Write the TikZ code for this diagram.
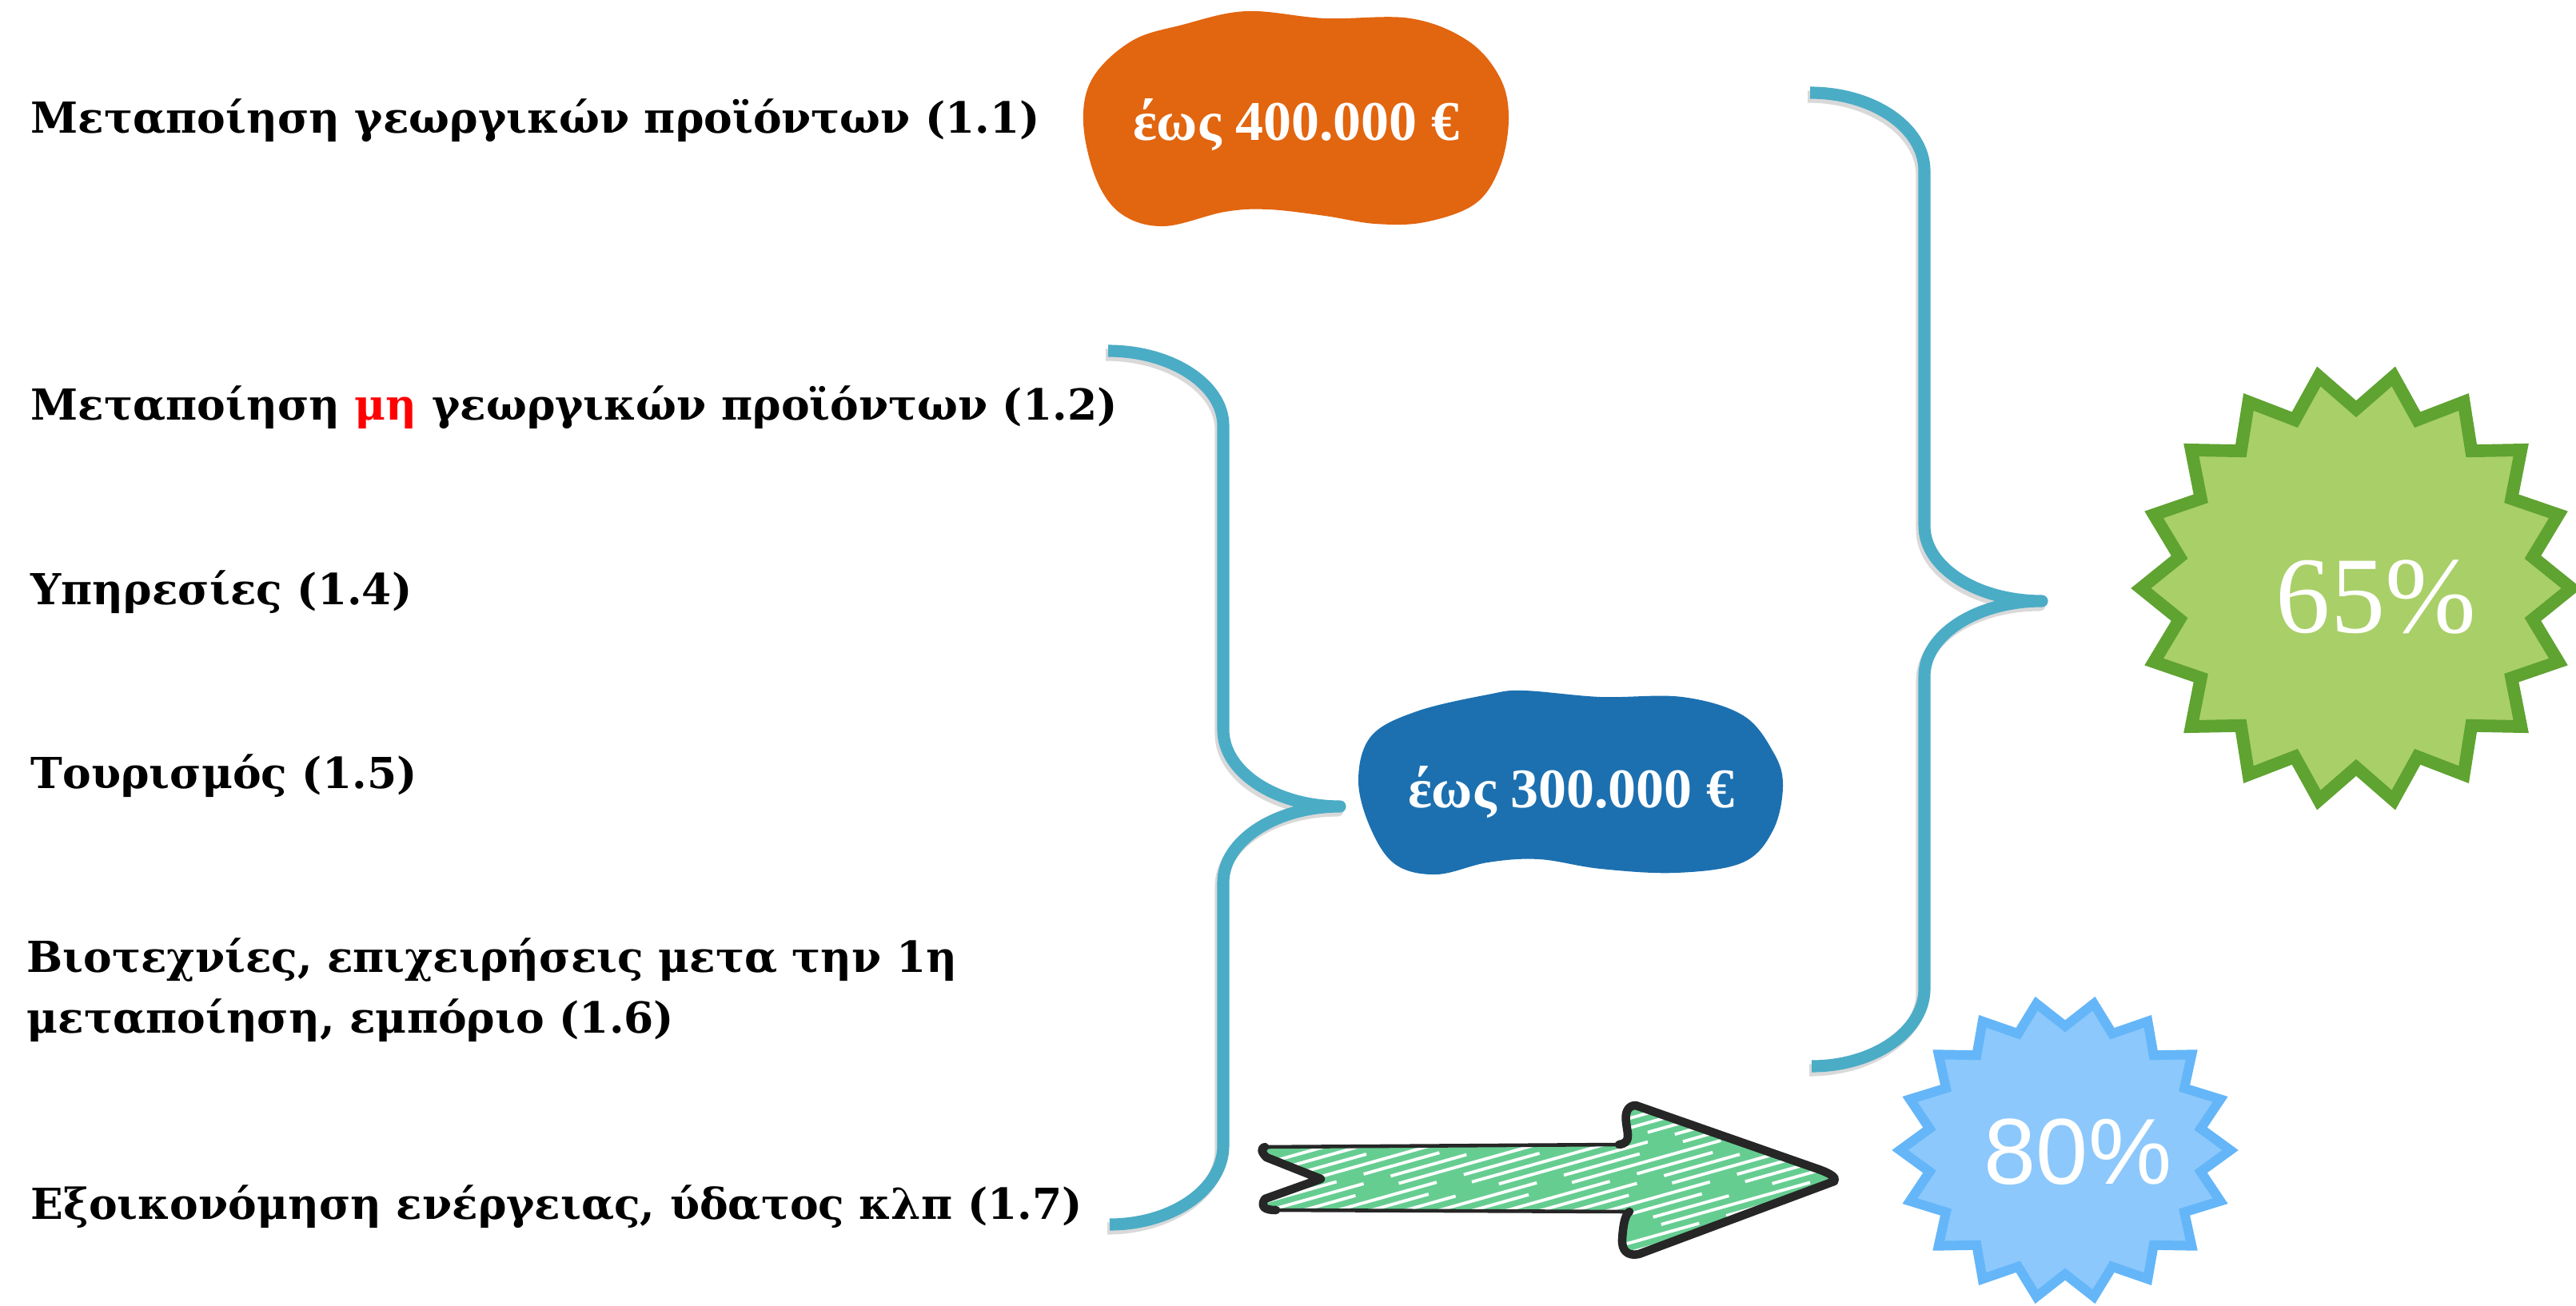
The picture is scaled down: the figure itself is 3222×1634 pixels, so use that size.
\documentclass[tikz,border=0pt]{standalone}
\usepackage{fontspec}
\setmainfont{DejaVu Serif}
\newfontfamily\blobfont{Liberation Serif}
\newfontfamily\pcsans{Liberation Sans}
\newfontfamily\pcserif{Liberation Serif}
\usepackage{xcolor}
\definecolor{bracecol}{HTML}{4BACC6}
\definecolor{orangeblob}{HTML}{E2650F}
\definecolor{blueblob}{HTML}{1C70B0}
\definecolor{gstarfill}{HTML}{A9CF68}
\definecolor{gstardraw}{HTML}{5FA331}
\definecolor{bstarfill}{HTML}{8CC8FC}
\definecolor{bstardraw}{HTML}{64B6F8}
\definecolor{arrowfill}{HTML}{66CD91}
\definecolor{arrowline}{HTML}{262626}
\usepackage{tikz}
\usetikzlibrary{shapes}

% outline of the sketched arrow (pixel units)
\newcommand{\greenarrowpath}{(1582,1435) -- (2025,1432)
  .. controls (2040,1430) and (2036,1420) .. (2034,1405)
  .. controls (2032,1392) and (2036,1383) .. (2046,1383)
  -- (2272,1462) .. controls (2290,1468) and (2298,1474) .. (2294,1478)
  -- (2050,1569) .. controls (2036,1572) and (2028,1565) .. (2029,1550)
  .. controls (2030,1535) and (2032,1520) .. (2038,1516)
  -- (1596,1514) .. controls (1582,1514) and (1576,1510) .. (1582,1500)
  -- (1652,1475) -- (1584,1448) .. controls (1576,1440) and (1578,1436) .. (1582,1435) -- cycle}

\begin{document}
\begin{tikzpicture}[x=0.01cm,y=-0.01cm]
  \tikzstyle{item}=[anchor=base west,inner sep=0pt,
                    font=\bfseries\fontsize{15.2pt}{21.6pt}\selectfont]
  \tikzstyle{blobtext}=[anchor=base,inner sep=0pt,text=white,
                        font=\blobfont\bfseries\fontsize{19.9pt}{22pt}\selectfont]
  \tikzstyle{burst}=[star,star points=18,star point ratio=1.2,
                     shape border rotate=10,inner sep=0pt]
  \tikzstyle{brace}=[draw=bracecol,line width=4.3pt,line join=round]
  \tikzstyle{braceshadow}=[draw=black,opacity=0.15,line width=4.3pt,
                           line join=round,xshift=-0.03cm,yshift=-0.05cm]

  \path[use as bounding box,fill=white] (0,0) rectangle (3222,1634);

  % texts on the left
  \node[item] (t11) at (38,167) {Μεταποίηση γεωργικών προϊόντων (1.1)};
  \node[item] (t12) at (38,526) {Μεταποίηση \textcolor{red}{μη} γεωργικών προϊόντων (1.2)};
  \node[item] (t14) at (38,756) {Υπηρεσίες (1.4)};
  \node[item] (t15) at (38,986) {Τουρισμός (1.5)};
  \node[item,align=left] (t16) at (33,1292) {Βιοτεχνίες, επιχειρήσεις μετα την 1η\\μεταποίηση, εμπόριο (1.6)};
  \node[item] (t17) at (38,1525) {Εξοικονόμηση ενέργειας, ύδατος κλπ (1.7)};

  % blobs
  \fill[orangeblob] plot[smooth cycle,tension=0.6] coordinates {(1355,153) (1367,97)
    (1416,51) (1479,31) (1559,14) (1657,23) (1764,23) (1836,51) (1876,97) (1887,148)
    (1876,209) (1845,255) (1782,278) (1720,280) (1657,270) (1586,262) (1532,265)
    (1456,283) (1403,268) (1371,224)};
  \node[blobtext] (b400) at (1621,176) {έως 400.000 €};

  \fill[blueblob] plot[smooth cycle,tension=0.6] coordinates {(1699,977) (1715,921)
    (1772,890) (1861,869) (1906,864) (2002,872) (2104,872) (2180,895) (2218,941)
    (2230,982) (2218,1038) (2180,1079) (2097,1092) (2002,1087) (1925,1075)
    (1861,1079) (1797,1094) (1746,1082) (1715,1038)};
  \node[blobtext] (b300) at (1965,1010) {έως 300.000 €};

  % braces
  \foreach \s in {braceshadow,brace} {
    \path[\s] (1386,439) .. controls (1465,439) and (1530,481) .. (1530,533)
      -- (1530,913) .. controls (1530,966) and (1596,1009) .. (1676,1009)
      .. controls (1596,1009) and (1530,1052) .. (1530,1104)
      -- (1530,1433) .. controls (1530,1488) and (1466,1532) .. (1388,1532);
    \path[\s] (2264,116) .. controls (2343,116) and (2407,160) .. (2407,214)
      -- (2407,658) .. controls (2407,710) and (2473,752) .. (2554,752)
      .. controls (2473,752) and (2407,794) .. (2407,846)
      -- (2407,1237) .. controls (2407,1290) and (2344,1334) .. (2266,1334);
  }

  % stars
  \node[burst,fill=gstarfill,draw=gstardraw,line width=4.5pt,minimum size=5.38cm] (s65) at (2947,736) {};
  \node[text=white,inner sep=0pt,font=\pcserif\fontsize{38.8pt}{40pt}\selectfont] (p65) at (2972,747) {65\%};
  \begin{scope}[shift={(2583,1439)},xscale=1.11]
    \node[burst,fill=bstarfill,draw=bstardraw,line width=3.4pt,minimum size=3.72cm,
          transform shape] (s80) at (0,0) {};
  \end{scope}
  \node[text=white,inner sep=0pt,font=\pcsans\fontsize{33.3pt}{36pt}\selectfont] (p80) at (2599,1441) {80\%};

  % sketched arrow
  \fill[arrowfill] \greenarrowpath;
  \begin{scope}
    \clip \greenarrowpath;
    \foreach \k [evaluate=\k as \ph using {mod(\k*41,160)}] in {0,...,34}
      \draw[white,line width=1.1pt,dash pattern=on 55pt off 10pt on 28pt off 16pt,
            dash phase=\ph pt] (1560,{1378+\k*12}) -- ++(780,-220);
  \end{scope}
  \draw[arrowline,line width=1.3pt,line join=round] \greenarrowpath;
  \draw[arrowline,line width=3pt,line join=round,line cap=round]
    (1596,1514) .. controls (1582,1514) and (1576,1510) .. (1582,1500)
    -- (1652,1475) -- (1584,1448) .. controls (1576,1440) and (1578,1436) .. (1582,1435);
  \draw[arrowline,line width=3pt,line join=round,line cap=round]
    (2025,1432) .. controls (2040,1430) and (2036,1420) .. (2034,1405)
    .. controls (2032,1392) and (2036,1383) .. (2046,1383)
    -- (2272,1462) .. controls (2290,1468) and (2298,1474) .. (2294,1478)
    -- (2050,1569) .. controls (2036,1572) and (2028,1565) .. (2029,1550)
    .. controls (2030,1535) and (2032,1520) .. (2038,1516);
\end{tikzpicture}
\end{document}
